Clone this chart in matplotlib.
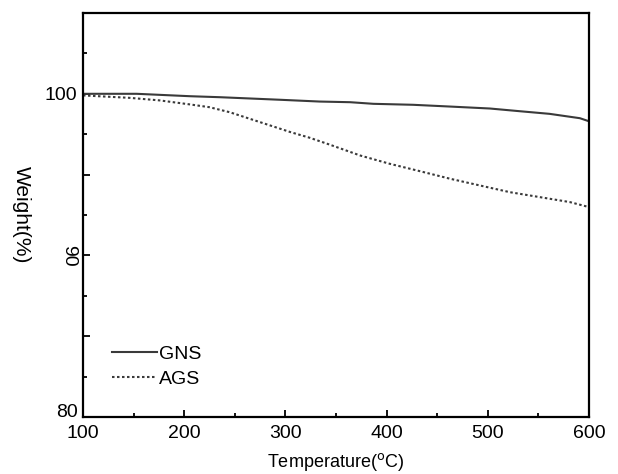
import matplotlib
matplotlib.use("Agg")
import matplotlib.pyplot as plt
from matplotlib.ticker import MultipleLocator, FuncFormatter

plt.rcParams['font.family'] = ['Liberation Sans', 'DejaVu Sans']

# GNS curve (temperature, weight %)
gns_temp = [100, 153, 206, 235, 265, 295, 334, 364, 387, 426, 463, 502, 532, 561, 591, 600]
gns_weight = [100.0, 100.0, 99.85, 99.79, 99.71, 99.63, 99.52, 99.48, 99.38, 99.32,
              99.21, 99.09, 98.92, 98.76, 98.49, 98.3]

# AGS curve
ags_temp = [100, 146, 176, 206, 225, 245, 265, 285, 305, 324, 344, 374, 403, 433,
            463, 492, 522, 552, 581, 600]
ags_weight = [99.9, 99.75, 99.59, 99.34, 99.17, 98.86, 98.45, 98.04, 97.63, 97.28,
              96.85, 96.18, 95.67, 95.21, 94.74, 94.33, 93.91, 93.6, 93.3, 92.99]

fig = plt.figure(figsize=(6.18, 4.74), dpi=100)
ax = fig.add_axes([83/618, 57/474, 506/618, 404/474])

line_col = '#3a3a3a'
ax.plot(gns_temp, gns_weight, color=line_col, lw=1.5, label='GNS')
ax.plot(ags_temp, ags_weight, color=line_col, lw=1.5, linestyle=(0, (1.2, 1.2)), label='AGS')

ax.set_xlim(100, 600)
ax.set_ylim(80, 105)

ax.xaxis.set_major_locator(MultipleLocator(100))
ax.xaxis.set_minor_locator(MultipleLocator(50))
ax.yaxis.set_major_locator(MultipleLocator(5))
ax.yaxis.set_minor_locator(MultipleLocator(2.5))
ax.yaxis.set_major_formatter(FuncFormatter(lambda v, p: '%d' % v if v % 10 == 0 and v <= 100 else ''))

ax.tick_params(which='both', direction='in', width=1.3, labelsize=14, color='black')
ax.tick_params(which='major', length=5)
ax.tick_params(which='minor', length=3)
ax.tick_params(axis='x', pad=6)
ax.tick_params(axis='y', pad=4)

for lab in ax.get_yticklabels():
    if lab.get_text() == '90':
        lab.set_rotation(-90)
        lab.set_va('center')
    elif lab.get_text() == '80':
        lab.set_va('baseline')

for sp in ax.spines.values():
    sp.set_linewidth(1.6)

ax.set_xlabel('Temperature($^{\\rm o}$C)', fontsize=13, labelpad=6)
ax.set_ylabel('Weight(%)', fontsize=15, rotation=-90, labelpad=24)

ax.legend(loc='upper left', bbox_to_anchor=((112 - 83) / 506, 0.177), frameon=False,
          fontsize=14, handlelength=2.3, handletextpad=0.1, borderpad=0,
          borderaxespad=0, labelspacing=0.35)

fig.savefig('out.png', dpi=100)
